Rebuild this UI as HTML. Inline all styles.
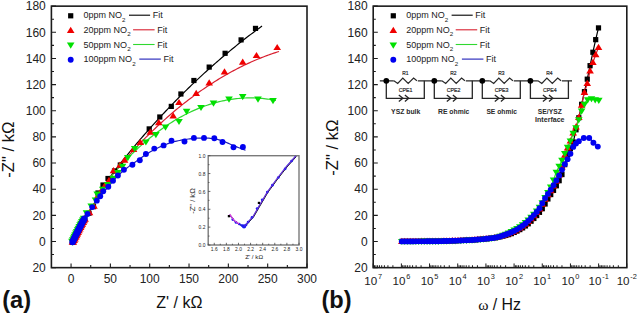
<!DOCTYPE html><html><head><meta charset="utf-8"><style>html,body{margin:0;padding:0;background:#fff;width:637px;height:313px;overflow:hidden}svg{display:block}</style></head><body>
<svg width="637" height="313" viewBox="0 0 637 313" style="font-family:'Liberation Sans',sans-serif;">
<rect width="637" height="313" fill="#fff"/>
<path d="M51.4 267.65h4.6 M51.4 254.57h2.6 M51.4 241.5h4.6 M51.4 228.43h2.6 M51.4 215.35h4.6 M51.4 202.28h2.6 M51.4 189.2h4.6 M51.4 176.12h2.6 M51.4 163.05h4.6 M51.4 149.97h2.6 M51.4 136.9h4.6 M51.4 123.82h2.6 M51.4 110.75h4.6 M51.4 97.67h2.6 M51.4 84.6h4.6 M51.4 71.52h2.6 M51.4 58.45h4.6 M51.4 45.37h2.6 M51.4 32.3h4.6 M51.4 19.22h2.6 M51.4 6.15h4.6" stroke="#1c1c1c" stroke-width="1.1" fill="none"/>
<text x="45.8" y="271.85" font-size="12" text-anchor="end" fill="#222">20</text>
<text x="45.8" y="245.7" font-size="12" text-anchor="end" fill="#222">0</text>
<text x="45.8" y="219.55" font-size="12" text-anchor="end" fill="#222">20</text>
<text x="45.8" y="193.4" font-size="12" text-anchor="end" fill="#222">40</text>
<text x="45.8" y="167.25" font-size="12" text-anchor="end" fill="#222">60</text>
<text x="45.8" y="141.1" font-size="12" text-anchor="end" fill="#222">80</text>
<text x="45.8" y="114.95" font-size="12" text-anchor="end" fill="#222">100</text>
<text x="45.8" y="88.8" font-size="12" text-anchor="end" fill="#222">120</text>
<text x="45.8" y="62.65" font-size="12" text-anchor="end" fill="#222">140</text>
<text x="45.8" y="36.5" font-size="12" text-anchor="end" fill="#222">160</text>
<text x="45.8" y="10.35" font-size="12" text-anchor="end" fill="#222">180</text>
<path d="M373.2 267.65h4.6 M373.2 254.57h2.6 M373.2 241.5h4.6 M373.2 228.43h2.6 M373.2 215.35h4.6 M373.2 202.28h2.6 M373.2 189.2h4.6 M373.2 176.12h2.6 M373.2 163.05h4.6 M373.2 149.97h2.6 M373.2 136.9h4.6 M373.2 123.82h2.6 M373.2 110.75h4.6 M373.2 97.67h2.6 M373.2 84.6h4.6 M373.2 71.52h2.6 M373.2 58.45h4.6 M373.2 45.37h2.6 M373.2 32.3h4.6 M373.2 19.22h2.6 M373.2 6.15h4.6" stroke="#1c1c1c" stroke-width="1.1" fill="none"/>
<text x="367.6" y="271.85" font-size="12" text-anchor="end" fill="#222">20</text>
<text x="367.6" y="245.7" font-size="12" text-anchor="end" fill="#222">0</text>
<text x="367.6" y="219.55" font-size="12" text-anchor="end" fill="#222">20</text>
<text x="367.6" y="193.4" font-size="12" text-anchor="end" fill="#222">40</text>
<text x="367.6" y="167.25" font-size="12" text-anchor="end" fill="#222">60</text>
<text x="367.6" y="141.1" font-size="12" text-anchor="end" fill="#222">80</text>
<text x="367.6" y="114.95" font-size="12" text-anchor="end" fill="#222">100</text>
<text x="367.6" y="88.8" font-size="12" text-anchor="end" fill="#222">120</text>
<text x="367.6" y="62.65" font-size="12" text-anchor="end" fill="#222">140</text>
<text x="367.6" y="36.5" font-size="12" text-anchor="end" fill="#222">160</text>
<text x="367.6" y="10.35" font-size="12" text-anchor="end" fill="#222">180</text>
<path d="M71.06 267.65v-4.2 M90.72 267.65v-2.6 M110.38 267.65v-4.2 M130.05 267.65v-2.6 M149.71 267.65v-4.2 M169.37 267.65v-2.6 M189.03 267.65v-4.2 M208.69 267.65v-2.6 M228.35 267.65v-4.2 M248.02 267.65v-2.6 M267.68 267.65v-4.2 M287.34 267.65v-2.6 M307 267.65v-4.2" stroke="#1c1c1c" stroke-width="1.1" fill="none"/>
<text x="71.06" y="283.2" font-size="12" text-anchor="middle" fill="#222">0</text>
<text x="110.38" y="283.2" font-size="12" text-anchor="middle" fill="#222">50</text>
<text x="149.71" y="283.2" font-size="12" text-anchor="middle" fill="#222">100</text>
<text x="189.03" y="283.2" font-size="12" text-anchor="middle" fill="#222">150</text>
<text x="228.35" y="283.2" font-size="12" text-anchor="middle" fill="#222">200</text>
<text x="267.68" y="283.2" font-size="12" text-anchor="middle" fill="#222">250</text>
<text x="307" y="283.2" font-size="12" text-anchor="middle" fill="#222">300</text>
<path d="M373.2 267.65v-4.2 M392.9 267.65v-2.4 M387.93 267.65v-2.4 M384.41 267.65v-2.4 M381.68 267.65v-2.4 M379.45 267.65v-2.4 M377.56 267.65v-2.4 M375.93 267.65v-2.4 M374.49 267.65v-2.4 M401.38 267.65v-4.2 M421.07 267.65v-2.4 M416.11 267.65v-2.4 M412.59 267.65v-2.4 M409.86 267.65v-2.4 M407.63 267.65v-2.4 M405.74 267.65v-2.4 M404.11 267.65v-2.4 M402.67 267.65v-2.4 M429.56 267.65v-4.2 M449.25 267.65v-2.4 M444.29 267.65v-2.4 M440.77 267.65v-2.4 M438.04 267.65v-2.4 M435.81 267.65v-2.4 M433.92 267.65v-2.4 M432.29 267.65v-2.4 M430.84 267.65v-2.4 M457.73 267.65v-4.2 M477.43 267.65v-2.4 M472.47 267.65v-2.4 M468.95 267.65v-2.4 M466.22 267.65v-2.4 M463.98 267.65v-2.4 M462.1 267.65v-2.4 M460.46 267.65v-2.4 M459.02 267.65v-2.4 M485.91 267.65v-4.2 M505.61 267.65v-2.4 M500.64 267.65v-2.4 M497.12 267.65v-2.4 M494.39 267.65v-2.4 M492.16 267.65v-2.4 M490.28 267.65v-2.4 M488.64 267.65v-2.4 M487.2 267.65v-2.4 M514.09 267.65v-4.2 M533.78 267.65v-2.4 M528.82 267.65v-2.4 M525.3 267.65v-2.4 M522.57 267.65v-2.4 M520.34 267.65v-2.4 M518.45 267.65v-2.4 M516.82 267.65v-2.4 M515.38 267.65v-2.4 M542.27 267.65v-4.2 M561.96 267.65v-2.4 M557 267.65v-2.4 M553.48 267.65v-2.4 M550.75 267.65v-2.4 M548.52 267.65v-2.4 M546.63 267.65v-2.4 M545 267.65v-2.4 M543.56 267.65v-2.4 M570.44 267.65v-4.2 M590.14 267.65v-2.4 M585.18 267.65v-2.4 M581.66 267.65v-2.4 M578.93 267.65v-2.4 M576.7 267.65v-2.4 M574.81 267.65v-2.4 M573.18 267.65v-2.4 M571.73 267.65v-2.4 M598.62 267.65v-4.2 M618.32 267.65v-2.4 M613.36 267.65v-2.4 M609.84 267.65v-2.4 M607.1 267.65v-2.4 M604.87 267.65v-2.4 M602.99 267.65v-2.4 M601.35 267.65v-2.4 M599.91 267.65v-2.4 M626.8 267.65v-4.2" stroke="#1c1c1c" stroke-width="1" fill="none"/>
<text x="364.29" y="284.9" font-size="11.6" fill="#222">10</text>
<text x="377.99" y="279.4" font-size="7.4" fill="#222">7</text>
<text x="392.47" y="284.9" font-size="11.6" fill="#222">10</text>
<text x="406.17" y="279.4" font-size="7.4" fill="#222">6</text>
<text x="420.65" y="284.9" font-size="11.6" fill="#222">10</text>
<text x="434.35" y="279.4" font-size="7.4" fill="#222">5</text>
<text x="448.83" y="284.9" font-size="11.6" fill="#222">10</text>
<text x="462.53" y="279.4" font-size="7.4" fill="#222">4</text>
<text x="477" y="284.9" font-size="11.6" fill="#222">10</text>
<text x="490.7" y="279.4" font-size="7.4" fill="#222">3</text>
<text x="505.18" y="284.9" font-size="11.6" fill="#222">10</text>
<text x="518.88" y="279.4" font-size="7.4" fill="#222">2</text>
<text x="533.36" y="284.9" font-size="11.6" fill="#222">10</text>
<text x="547.06" y="279.4" font-size="7.4" fill="#222">1</text>
<text x="561.54" y="284.9" font-size="11.6" fill="#222">10</text>
<text x="575.24" y="279.4" font-size="7.4" fill="#222">0</text>
<text x="588.48" y="284.9" font-size="11.6" fill="#222">10</text>
<text x="602.18" y="279.4" font-size="7.4" fill="#222">-1</text>
<text x="616.66" y="284.9" font-size="11.6" fill="#222">10</text>
<text x="630.36" y="279.4" font-size="7.4" fill="#222">-2</text>
<rect x="51.4" y="6.15" width="255.6" height="261.5" fill="none" stroke="#1c1c1c" stroke-width="1.6"/>
<rect x="373.2" y="6.15" width="253.6" height="261.5" fill="none" stroke="#1c1c1c" stroke-width="1.6"/>
<text x="156.3" y="307.8" font-size="16" fill="#111">Z' / kΩ</text>
<text transform="translate(14.2 149.7) rotate(-90)" font-size="16.6" text-anchor="middle" fill="#111">-Z" / kΩ</text>
<text transform="translate(337.6 147.7) rotate(-90)" font-size="16.6" text-anchor="middle" fill="#111">-Z" / kΩ</text>
<text x="478.3" y="309.6" font-size="15.6" fill="#111" style="font-family:'Liberation Serif',serif">ω</text>
<text x="492.7" y="309.6" font-size="15.9" fill="#111">/ Hz</text>
<text x="2.2" y="308.4" font-size="23.6" font-weight="bold" fill="#111">(a)</text>
<text x="321.4" y="308.4" font-size="23.6" font-weight="bold" fill="#111">(b)</text>
<rect x="68.1" y="13.2" width="5.2" height="5.2" fill="#000"/>
<text x="83.6" y="18.4" font-size="9" fill="#222">0ppm NO<tspan font-size="6.2" dy="3.4">2</tspan></text>
<path d="M129 15.2H150.1" stroke="#000" stroke-width="1.1"/>
<text x="152.7" y="18.4" font-size="9" fill="#222">Fit</text>
<path d="M70.7 26.68L74.5 32.88L66.9 32.88Z" fill="#f00000"/>
<text x="83.6" y="33" font-size="9" fill="#222">20ppm NO<tspan font-size="6.2" dy="3.4">2</tspan></text>
<path d="M133.1 29.8H154.6" stroke="#d82030" stroke-width="1.1"/>
<text x="157.2" y="33" font-size="9" fill="#222">Fit</text>
<path d="M70.7 48.82L74.5 42.62L66.9 42.62Z" fill="#00e000"/>
<text x="83.6" y="47.7" font-size="9" fill="#222">50ppm NO<tspan font-size="6.2" dy="3.4">2</tspan></text>
<path d="M133.1 44.5H154.6" stroke="#30d830" stroke-width="1.1"/>
<text x="157.2" y="47.7" font-size="9" fill="#222">Fit</text>
<circle cx="70.7" cy="59.7" r="2.95" fill="#0000f0"/>
<text x="83.6" y="62.3" font-size="9" fill="#222">100ppm NO<tspan font-size="6.2" dy="3.4">2</tspan></text>
<path d="M139.3 59.1H160.8" stroke="#1e1eb8" stroke-width="1.1"/>
<text x="163.4" y="62.3" font-size="9" fill="#222">Fit</text>
<rect x="390.7" y="13.2" width="5.2" height="5.2" fill="#000"/>
<text x="406.2" y="18.4" font-size="9" fill="#222">0ppm NO<tspan font-size="6.2" dy="3.4">2</tspan></text>
<path d="M451.6 15.2H472.7" stroke="#000" stroke-width="1.1"/>
<text x="475.3" y="18.4" font-size="9" fill="#222">Fit</text>
<path d="M393.3 26.68L397.1 32.88L389.5 32.88Z" fill="#f00000"/>
<text x="406.2" y="33" font-size="9" fill="#222">20ppm NO<tspan font-size="6.2" dy="3.4">2</tspan></text>
<path d="M455.7 29.8H477.2" stroke="#d82030" stroke-width="1.1"/>
<text x="479.8" y="33" font-size="9" fill="#222">Fit</text>
<path d="M393.3 48.82L397.1 42.62L389.5 42.62Z" fill="#00e000"/>
<text x="406.2" y="47.7" font-size="9" fill="#222">50ppm NO<tspan font-size="6.2" dy="3.4">2</tspan></text>
<path d="M455.7 44.5H477.2" stroke="#30d830" stroke-width="1.1"/>
<text x="479.8" y="47.7" font-size="9" fill="#222">Fit</text>
<circle cx="393.3" cy="59.7" r="2.95" fill="#0000f0"/>
<text x="406.2" y="62.3" font-size="9" fill="#222">100ppm NO<tspan font-size="6.2" dy="3.4">2</tspan></text>
<path d="M461.9 59.1H483.4" stroke="#1e1eb8" stroke-width="1.1"/>
<text x="486" y="62.3" font-size="9" fill="#222">Fit</text>
<polyline points="71.3,242.3 72.9,241.26 74.51,237.94 76.11,234.65 77.71,231.37 79.31,228.2 80.92,225.1 82.52,222.08 84.12,219.24 85.72,216.63 87.33,214.2 88.93,211.86 90.53,209.53 92.13,207.2 93.74,204.91 95.34,202.25 96.94,199.56 98.54,196.9 100.15,194.28 101.75,191.66 103.35,189.01 104.95,186.35 106.56,183.66 108.16,180.93 109.76,178.16 111.36,175.37 112.97,173 114.57,170.91 116.17,168.84 117.77,166.79 119.38,164.75 120.98,162.73 122.58,160.72 124.18,158.72 125.79,156.74 127.39,154.77 128.99,152.81 130.59,150.87 132.2,148.94 133.8,147.02 135.4,145.11 137,143.22 138.61,141.33 140.21,139.46 141.81,137.6 143.41,135.75 145.02,133.92 146.62,132.09 148.22,130.28 149.82,128.48 151.43,126.68 153.03,124.9 154.63,123.13 156.23,121.37 157.84,119.62 159.44,117.88 161.04,116.15 162.64,114.43 164.25,112.72 165.85,111.02 167.45,109.34 169.05,107.66 170.66,105.99 172.26,104.33 173.86,102.68 175.46,101.04 177.07,99.41 178.67,97.79 180.27,96.18 181.87,94.58 183.48,92.99 185.08,91.41 186.68,89.84 188.28,88.27 189.89,86.72 191.49,85.18 193.09,83.64 194.69,82.12 196.3,80.6 197.9,79.09 199.5,77.6 201.1,76.11 202.71,74.63 204.31,73.16 205.91,71.7 207.51,70.24 209.12,68.8 210.72,67.37 212.32,65.94 213.92,64.53 215.53,63.12 217.13,61.72 218.73,60.33 220.33,58.95 221.94,57.58 223.54,56.21 225.14,54.86 226.74,53.51 228.35,52.18 229.95,50.85 231.55,49.53 233.15,48.22 234.76,46.91 236.36,45.62 237.96,44.34 239.56,43.06 241.17,41.79 242.77,40.53 244.37,39.28 245.97,38.04 247.58,36.81 249.18,35.58 250.78,34.37 252.38,33.16 253.99,31.96 255.59,30.77 257.19,29.59 258.79,28.41 260.4,27.25 262,26.09" fill="none" stroke="#000" stroke-width="1.2"/>
<polyline points="71.3,242.3 73.05,240.96 74.79,237.36 76.54,233.77 78.28,230.22 80.03,226.81 81.77,223.47 83.52,220.28 85.26,217.36 87.01,214.67 88.75,212.11 90.5,209.57 92.24,207.04 93.99,204.55 95.74,201.57 97.48,198.65 99.23,195.8 100.97,192.98 102.72,190.17 104.46,187.37 106.21,184.56 107.95,181.73 109.7,178.88 111.44,176.03 113.19,173.66 114.93,171.54 116.68,169.43 118.43,167.35 120.17,165.3 121.92,163.26 123.66,161.25 125.41,159.26 127.15,157.29 128.9,155.34 130.64,153.42 132.39,151.51 134.13,149.62 135.88,147.75 137.62,145.9 139.37,144.07 141.12,142.26 142.86,140.47 144.61,138.7 146.35,136.95 148.1,135.21 149.84,133.49 151.59,131.79 153.33,130.11 155.08,128.45 156.82,126.8 158.57,125.17 160.31,123.56 162.06,121.96 163.81,120.39 165.55,118.83 167.3,117.28 169.04,115.76 170.79,114.25 172.53,112.76 174.28,111.28 176.02,109.82 177.77,108.38 179.51,106.95 181.26,105.54 183,104.15 184.75,102.77 186.49,101.41 188.24,100.06 189.99,98.73 191.73,97.42 193.48,96.12 195.22,94.84 196.97,93.58 198.71,92.33 200.46,91.1 202.2,89.88 203.95,88.68 205.69,87.49 207.44,86.32 209.18,85.16 210.93,84.03 212.68,82.9 214.42,81.79 216.17,80.7 217.91,79.62 219.66,78.56 221.4,77.52 223.15,76.48 224.89,75.47 226.64,74.47 228.38,73.48 230.13,72.51 231.87,71.56 233.62,70.62 235.37,69.7 237.11,68.79 238.86,67.89 240.6,67.01 242.35,66.15 244.09,65.3 245.84,64.47 247.58,63.65 249.33,62.85 251.07,62.06 252.82,61.28 254.56,60.53 256.31,59.78 258.06,59.05 259.8,58.34 261.55,57.64 263.29,56.96 265.04,56.29 266.78,55.64 268.53,55 270.27,54.37 272.02,53.76 273.76,53.17 275.51,52.59 277.25,52.02 279,51.47" fill="none" stroke="#d82030" stroke-width="1.2"/>
<polyline points="71.3,242.3 73.02,241.01 74.74,237.46 76.46,233.93 78.18,230.42 79.9,227.06 81.62,223.75 83.34,220.6 85.06,217.68 86.78,215.01 88.5,212.48 90.22,209.98 91.94,207.48 93.66,205.01 95.38,202.14 97.1,199.22 98.82,196.37 100.54,193.58 102.26,190.82 103.98,188.07 105.7,185.33 107.42,182.6 109.14,179.87 110.86,177.16 112.58,174.71 114.3,172.71 116.02,170.75 117.74,168.82 119.46,166.92 121.18,165.05 122.91,163.21 124.63,161.39 126.35,159.61 128.07,157.86 129.79,156.13 131.51,154.44 133.23,152.77 134.95,151.12 136.67,149.51 138.39,147.92 140.11,146.36 141.83,144.83 143.55,143.32 145.27,141.84 146.99,140.39 148.71,138.96 150.43,137.56 152.15,136.18 153.87,134.83 155.59,133.5 157.31,132.2 159.03,130.93 160.75,129.68 162.47,128.45 164.19,127.25 165.91,126.08 167.63,124.93 169.35,123.81 171.07,122.71 172.79,121.63 174.51,120.58 176.23,119.55 177.95,118.55 179.67,117.57 181.39,116.62 183.11,115.69 184.83,114.79 186.55,113.91 188.27,113.05 189.99,112.22 191.71,111.41 193.43,110.62 195.15,109.86 196.87,109.12 198.59,108.41 200.31,107.72 202.03,107.06 203.75,106.41 205.47,105.79 207.19,105.2 208.91,104.63 210.63,104.08 212.35,103.56 214.07,103.06 215.79,102.58 217.51,102.12 219.23,101.69 220.95,101.29 222.67,100.9 224.39,100.54 226.12,100.2 227.84,99.89 229.56,99.6 231.28,99.33 233,99.09 234.72,98.87 236.44,98.67 238.16,98.49 239.88,98.34 241.6,98.21 243.32,98.11 245.04,98.02 246.76,97.96 248.48,97.93 250.2,97.91 251.92,97.92 253.64,97.95 255.36,98.01 257.08,98.09 258.8,98.19 260.52,98.31 262.24,98.46 263.96,98.63 265.68,98.82 267.4,99.04 269.12,99.27 270.84,99.54 272.56,99.82 274.28,100.13 276,100.45" fill="none" stroke="#30d830" stroke-width="1.2"/>
<polyline points="71.3,242.3 72.76,241.54 74.23,238.51 75.69,235.51 77.16,232.5 78.62,229.56 80.08,226.7 81.55,223.89 83.01,221.19 84.47,218.64 85.94,216.29 87.4,214.08 88.87,211.95 90.33,209.82 91.79,207.69 93.26,205.59 94.72,203.52 96.19,201.5 97.65,199.53 99.11,197.64 100.58,195.8 102.04,194.01 103.51,192.23 104.97,190.5 106.43,188.79 107.9,187.08 109.36,185.33 110.82,183.56 112.29,181.82 113.75,180.15 115.22,178.52 116.68,176.94 118.14,175.46 119.61,174.05 121.07,172.71 122.54,171.42 124,170.2 125.46,169.04 126.93,167.93 128.39,166.86 129.85,165.81 131.32,164.77 132.78,163.73 134.25,162.68 135.71,161.65 137.17,160.63 138.64,159.61 140.1,158.59 141.57,157.56 143.03,156.53 144.49,155.53 145.96,154.56 147.42,153.63 148.88,152.71 150.35,151.82 151.81,150.96 153.28,150.14 154.74,149.38 156.2,148.65 157.67,147.96 159.13,147.3 160.6,146.66 162.06,146.04 163.52,145.43 164.99,144.82 166.45,144.22 167.92,143.63 169.38,143.08 170.84,142.59 172.31,142.18 173.77,141.79 175.23,141.43 176.7,141.09 178.16,140.77 179.63,140.47 181.09,140.18 182.55,139.92 184.02,139.68 185.48,139.44 186.95,139.22 188.41,139 189.87,138.8 191.34,138.62 192.8,138.48 194.26,138.38 195.73,138.29 197.19,138.21 198.66,138.14 200.12,138.08 201.58,138.03 203.05,138.01 204.51,138 205.98,138.04 207.44,138.11 208.9,138.22 210.37,138.35 211.83,138.51 213.29,138.68 214.76,138.86 216.22,139.13 217.69,139.49 219.15,139.92 220.61,140.38 222.08,140.86 223.54,141.36 225.01,141.91 226.47,142.52 227.93,143.16 229.4,143.82 230.86,144.47 232.33,145.11 233.79,145.72 235.25,146.31 236.72,146.89 238.18,147.47 239.64,148.05 241.11,148.62 242.57,149.18 244.04,149.74 245.5,150.3" fill="none" stroke="#1e1eb8" stroke-width="1.2"/>
<rect x="69.79" y="239.07" width="5.82" height="5.82" fill="#000"/>
<rect x="70.59" y="237.41" width="5.82" height="5.82" fill="#000"/>
<rect x="71.39" y="235.76" width="5.82" height="5.82" fill="#000"/>
<rect x="72.19" y="234.11" width="5.82" height="5.82" fill="#000"/>
<rect x="72.99" y="232.47" width="5.82" height="5.82" fill="#000"/>
<rect x="73.79" y="230.83" width="5.82" height="5.82" fill="#000"/>
<rect x="74.59" y="229.19" width="5.82" height="5.82" fill="#000"/>
<rect x="75.39" y="227.57" width="5.82" height="5.82" fill="#000"/>
<rect x="76.24" y="225.9" width="5.82" height="5.82" fill="#000"/>
<rect x="77.09" y="224.25" width="5.82" height="5.82" fill="#000"/>
<rect x="77.94" y="222.6" width="5.82" height="5.82" fill="#000"/>
<rect x="78.79" y="220.98" width="5.82" height="5.82" fill="#000"/>
<rect x="79.69" y="219.3" width="5.82" height="5.82" fill="#000"/>
<rect x="80.59" y="217.68" width="5.82" height="5.82" fill="#000"/>
<rect x="81.54" y="216.04" width="5.82" height="5.82" fill="#000"/>
<rect x="86.4" y="210.61" width="5.2" height="5.2" fill="#000"/>
<rect x="90.9" y="204.07" width="5.2" height="5.2" fill="#000"/>
<rect x="95.4" y="190.4" width="5.2" height="5.2" fill="#000"/>
<rect x="100.4" y="182.4" width="5.2" height="5.2" fill="#000"/>
<rect x="105.4" y="175.9" width="5.2" height="5.2" fill="#000"/>
<rect x="117.7" y="162.4" width="5.2" height="5.2" fill="#000"/>
<rect x="111.9" y="168.4" width="5.2" height="5.2" fill="#000"/>
<rect x="146.6" y="126.3" width="5.2" height="5.2" fill="#000"/>
<rect x="157.2" y="114.4" width="5.2" height="5.2" fill="#000"/>
<rect x="168.7" y="103.8" width="5.2" height="5.2" fill="#000"/>
<rect x="178.3" y="91.4" width="5.2" height="5.2" fill="#000"/>
<rect x="191.3" y="77.9" width="5.2" height="5.2" fill="#000"/>
<rect x="206.6" y="64.5" width="5.2" height="5.2" fill="#000"/>
<rect x="222.5" y="50.7" width="5.2" height="5.2" fill="#000"/>
<rect x="238.5" y="37.3" width="5.2" height="5.2" fill="#000"/>
<rect x="252.9" y="25.8" width="5.2" height="5.2" fill="#000"/>
<path d="M72.9 237.82L77.16 244.76L68.64 244.76Z" fill="#f00000"/>
<path d="M73.7 236.16L77.96 243.1L69.44 243.1Z" fill="#f00000"/>
<path d="M74.5 234.5L78.76 241.45L70.24 241.45Z" fill="#f00000"/>
<path d="M75.3 232.86L79.56 239.8L71.04 239.8Z" fill="#f00000"/>
<path d="M76.1 231.22L80.36 238.16L71.84 238.16Z" fill="#f00000"/>
<path d="M76.9 229.57L81.16 236.52L72.64 236.52Z" fill="#f00000"/>
<path d="M77.7 227.93L81.96 234.88L73.44 234.88Z" fill="#f00000"/>
<path d="M78.5 226.32L82.76 233.26L74.24 233.26Z" fill="#f00000"/>
<path d="M79.35 224.65L83.61 231.59L75.09 231.59Z" fill="#f00000"/>
<path d="M80.2 222.99L84.46 229.94L75.94 229.94Z" fill="#f00000"/>
<path d="M81.05 221.35L85.31 228.29L76.79 228.29Z" fill="#f00000"/>
<path d="M81.9 219.73L86.16 226.67L77.64 226.67Z" fill="#f00000"/>
<path d="M82.8 218.05L87.06 224.99L78.54 224.99Z" fill="#f00000"/>
<path d="M83.7 216.42L87.96 223.37L79.44 223.37Z" fill="#f00000"/>
<path d="M84.65 214.78L88.91 221.73L80.39 221.73Z" fill="#f00000"/>
<path d="M89.5 209.06L93.3 215.26L85.7 215.26Z" fill="#f00000"/>
<path d="M94 202.54L97.8 208.74L90.2 208.74Z" fill="#f00000"/>
<path d="M97.5 192.78L101.3 198.98L93.7 198.98Z" fill="#f00000"/>
<path d="M101.5 186.78L105.3 192.98L97.7 192.98Z" fill="#f00000"/>
<path d="M105 181.78L108.8 187.98L101.2 187.98Z" fill="#f00000"/>
<path d="M109 176.68L112.8 182.88L105.2 182.88Z" fill="#f00000"/>
<path d="M113.5 167.08L117.3 173.28L109.7 173.28Z" fill="#f00000"/>
<path d="M120 161.48L123.8 167.68L116.2 167.68Z" fill="#f00000"/>
<path d="M124.6 156.58L128.4 162.78L120.8 162.78Z" fill="#f00000"/>
<path d="M133.5 145.78L137.3 151.98L129.7 151.98Z" fill="#f00000"/>
<path d="M140.3 138.68L144.1 144.88L136.5 144.88Z" fill="#f00000"/>
<path d="M150.3 128.58L154.1 134.78L146.5 134.78Z" fill="#f00000"/>
<path d="M158.8 118.98L162.6 125.18L155 125.18Z" fill="#f00000"/>
<path d="M173.2 112.28L177 118.48L169.4 118.48Z" fill="#f00000"/>
<path d="M179 98.88L182.8 105.08L175.2 105.08Z" fill="#f00000"/>
<path d="M196.2 89.68L200 95.88L192.4 95.88Z" fill="#f00000"/>
<path d="M209.2 79.28L213 85.48L205.4 85.48Z" fill="#f00000"/>
<path d="M224.5 68.18L228.3 74.38L220.7 74.38Z" fill="#f00000"/>
<path d="M242.7 58.58L246.5 64.78L238.9 64.78Z" fill="#f00000"/>
<path d="M256.5 51.88L260.3 58.08L252.7 58.08Z" fill="#f00000"/>
<path d="M277.2 43.88L281 50.08L273.4 50.08Z" fill="#f00000"/>
<path d="M72.4 245.75L76.66 238.81L68.14 238.81Z" fill="#00e000"/>
<path d="M73.2 244.09L77.46 237.15L68.94 237.15Z" fill="#00e000"/>
<path d="M74 242.44L78.26 235.49L69.74 235.49Z" fill="#00e000"/>
<path d="M74.8 240.79L79.06 233.85L70.54 233.85Z" fill="#00e000"/>
<path d="M75.6 239.15L79.86 232.21L71.34 232.21Z" fill="#00e000"/>
<path d="M76.4 237.5L80.66 230.56L72.14 230.56Z" fill="#00e000"/>
<path d="M77.2 235.87L81.46 228.92L72.94 228.92Z" fill="#00e000"/>
<path d="M78 234.25L82.26 227.31L73.74 227.31Z" fill="#00e000"/>
<path d="M78.85 232.58L83.11 225.64L74.59 225.64Z" fill="#00e000"/>
<path d="M79.7 230.93L83.96 223.98L75.44 223.98Z" fill="#00e000"/>
<path d="M80.55 229.28L84.81 222.34L76.29 222.34Z" fill="#00e000"/>
<path d="M81.4 227.66L85.66 220.72L77.14 220.72Z" fill="#00e000"/>
<path d="M82.3 225.98L86.56 219.04L78.04 219.04Z" fill="#00e000"/>
<path d="M83.2 224.36L87.46 217.41L78.94 217.41Z" fill="#00e000"/>
<path d="M84.15 222.72L88.41 215.77L79.89 215.77Z" fill="#00e000"/>
<path d="M86.5 216.43L90.3 210.23L82.7 210.23Z" fill="#00e000"/>
<path d="M91.2 209.61L95 203.41L87.4 203.41Z" fill="#00e000"/>
<path d="M95.5 203.62L99.3 197.42L91.7 197.42Z" fill="#00e000"/>
<path d="M97.2 197.82L101 191.62L93.4 191.62Z" fill="#00e000"/>
<path d="M102.8 193.02L106.6 186.82L99 186.82Z" fill="#00e000"/>
<path d="M107.6 188.22L111.4 182.02L103.8 182.02Z" fill="#00e000"/>
<path d="M113.2 181.92L117 175.72L109.4 175.72Z" fill="#00e000"/>
<path d="M117.9 176.32L121.7 170.12L114.1 170.12Z" fill="#00e000"/>
<path d="M122.5 169.92L126.3 163.72L118.7 163.72Z" fill="#00e000"/>
<path d="M127.8 161.32L131.6 155.12L124 155.12Z" fill="#00e000"/>
<path d="M134.7 152.32L138.5 146.12L130.9 146.12Z" fill="#00e000"/>
<path d="M145.9 145.62L149.7 139.42L142.1 139.42Z" fill="#00e000"/>
<path d="M155.9 138.22L159.7 132.02L152.1 132.02Z" fill="#00e000"/>
<path d="M165.5 130.82L169.3 124.62L161.7 124.62Z" fill="#00e000"/>
<path d="M179 125.12L182.8 118.92L175.2 118.92Z" fill="#00e000"/>
<path d="M186.6 114.92L190.4 108.72L182.8 108.72Z" fill="#00e000"/>
<path d="M201 111.12L204.8 104.92L197.2 104.92Z" fill="#00e000"/>
<path d="M213.5 106.72L217.3 100.52L209.7 100.52Z" fill="#00e000"/>
<path d="M229 102.72L232.8 96.52L225.2 96.52Z" fill="#00e000"/>
<path d="M242.7 100.22L246.5 94.02L238.9 94.02Z" fill="#00e000"/>
<path d="M258 102.72L261.8 96.52L254.2 96.52Z" fill="#00e000"/>
<path d="M273 104.32L276.8 98.12L269.2 98.12Z" fill="#00e000"/>
<circle cx="72.6" cy="241.88" r="3.3" fill="#0000f0"/>
<circle cx="73.4" cy="240.22" r="3.3" fill="#0000f0"/>
<circle cx="74.2" cy="238.57" r="3.3" fill="#0000f0"/>
<circle cx="75" cy="236.93" r="3.3" fill="#0000f0"/>
<circle cx="75.8" cy="235.28" r="3.3" fill="#0000f0"/>
<circle cx="76.6" cy="233.64" r="3.3" fill="#0000f0"/>
<circle cx="77.4" cy="232" r="3.3" fill="#0000f0"/>
<circle cx="78.2" cy="230.39" r="3.3" fill="#0000f0"/>
<circle cx="79.05" cy="228.72" r="3.3" fill="#0000f0"/>
<circle cx="79.9" cy="227.06" r="3.3" fill="#0000f0"/>
<circle cx="80.75" cy="225.41" r="3.3" fill="#0000f0"/>
<circle cx="81.6" cy="223.79" r="3.3" fill="#0000f0"/>
<circle cx="82.5" cy="222.12" r="3.3" fill="#0000f0"/>
<circle cx="83.4" cy="220.49" r="3.3" fill="#0000f0"/>
<circle cx="84.35" cy="218.85" r="3.3" fill="#0000f0"/>
<circle cx="87.5" cy="213.94" r="2.95" fill="#0000f0"/>
<circle cx="92.2" cy="207.11" r="2.95" fill="#0000f0"/>
<circle cx="96.8" cy="200.67" r="2.95" fill="#0000f0"/>
<circle cx="100.2" cy="196.27" r="2.95" fill="#0000f0"/>
<circle cx="103.2" cy="191.2" r="2.95" fill="#0000f0"/>
<circle cx="108.3" cy="186.8" r="2.95" fill="#0000f0"/>
<circle cx="113" cy="180.8" r="2.95" fill="#0000f0"/>
<circle cx="117.9" cy="175.5" r="2.95" fill="#0000f0"/>
<circle cx="123.9" cy="169.7" r="2.95" fill="#0000f0"/>
<circle cx="132.4" cy="164.7" r="2.95" fill="#0000f0"/>
<circle cx="139.8" cy="160.3" r="2.95" fill="#0000f0"/>
<circle cx="145.9" cy="154" r="2.95" fill="#0000f0"/>
<circle cx="154.3" cy="148.6" r="2.95" fill="#0000f0"/>
<circle cx="163.6" cy="145.4" r="2.95" fill="#0000f0"/>
<circle cx="171.5" cy="140.7" r="2.95" fill="#0000f0"/>
<circle cx="184.5" cy="141.5" r="2.95" fill="#0000f0"/>
<circle cx="193.9" cy="137.9" r="2.95" fill="#0000f0"/>
<circle cx="204" cy="137.9" r="2.95" fill="#0000f0"/>
<circle cx="214.3" cy="138.3" r="2.95" fill="#0000f0"/>
<circle cx="222.5" cy="142" r="2.95" fill="#0000f0"/>
<circle cx="233.5" cy="147.3" r="2.95" fill="#0000f0"/>
<circle cx="242.9" cy="147" r="2.95" fill="#0000f0"/>
<polyline points="400,241.4 401,241.4 401.99,241.4 402.99,241.4 403.99,241.4 404.98,241.39 405.98,241.39 406.98,241.39 407.98,241.39 408.97,241.39 409.97,241.38 410.97,241.38 411.96,241.38 412.96,241.38 413.96,241.37 414.95,241.37 415.95,241.37 416.95,241.36 417.95,241.36 418.94,241.35 419.94,241.35 420.94,241.35 421.93,241.34 422.93,241.34 423.93,241.33 424.92,241.33 425.92,241.32 426.92,241.32 427.92,241.31 428.91,241.31 429.91,241.3 430.91,241.29 431.9,241.29 432.9,241.28 433.9,241.27 434.89,241.25 435.89,241.24 436.89,241.22 437.89,241.2 438.88,241.19 439.88,241.16 440.88,241.14 441.87,241.12 442.87,241.1 443.87,241.07 444.86,241.04 445.86,241.01 446.86,240.99 447.86,240.96 448.85,240.92 449.85,240.89 450.85,240.86 451.84,240.82 452.84,240.79 453.84,240.75 454.83,240.72 455.83,240.68 456.83,240.64 457.83,240.6 458.82,240.56 459.82,240.52 460.82,240.48 461.81,240.44 462.81,240.39 463.81,240.35 464.8,240.31 465.8,240.26 466.8,240.22 467.79,240.17 468.79,240.12 469.79,240.06 470.79,240 471.78,239.94 472.78,239.88 473.78,239.81 474.77,239.74 475.77,239.67 476.77,239.6 477.76,239.52 478.76,239.44 479.76,239.35 480.76,239.27 481.75,239.18 482.75,239.09 483.75,238.99 484.74,238.89 485.74,238.79 486.74,238.69 487.73,238.58 488.73,238.47 489.73,238.35 490.73,238.24 491.72,238.12 492.72,237.99 493.72,237.87 494.71,237.74 495.71,237.6 496.71,237.45 497.7,237.28 498.7,237.1 499.7,236.9 500.7,236.69 501.69,236.47 502.69,236.23 503.69,235.99 504.68,235.73 505.68,235.46 506.68,235.18 507.67,234.9 508.67,234.59 509.67,234.26 510.67,233.9 511.66,233.52 512.66,233.11 513.66,232.68 514.65,232.22 515.65,231.76 516.65,231.27 517.64,230.78 518.64,230.26 519.64,229.71 520.64,229.13 521.63,228.52 522.63,227.89 523.63,227.23 524.62,226.54 525.62,225.83 526.62,225.08 527.61,224.3 528.61,223.46 529.61,222.58 530.61,221.66 531.6,220.71 532.6,219.73 533.6,218.73 534.59,217.72 535.59,216.68 536.59,215.63 537.58,214.56 538.58,213.44 539.58,212.27 540.57,211.03 541.57,209.73 542.57,208.32 543.57,206.73 544.56,204.99 545.56,203.18 546.56,201.36 547.55,199.59 548.55,197.93 549.55,196.36 550.54,194.84 551.54,193.36 552.54,191.87 553.54,190.36 554.53,188.81 555.53,187.18 556.53,185.46 557.52,183.71 558.52,181.9 559.52,179.99 560.51,177.93 561.51,175.67 562.51,173.17 563.51,170.22 564.5,166.19 565.5,160.63 566.5,157.03 567.49,154.65 568.49,152.67 569.49,150.61 570.48,148.58 571.48,146.57 572.48,144.21 573.48,140.99 574.47,136.8 575.47,132.23 576.47,127.88 577.46,123.68 578.46,119.41 579.46,114.88 580.45,110.03 581.45,105.2 582.45,100.61 583.45,96.14 584.44,91.69 585.44,87.31 586.44,82.91 587.43,78.36 588.43,73.6 589.43,68.78 590.42,63.98 591.42,59.16 592.42,54.41 593.42,49.79 594.41,45.28 595.41,40.87 596.41,36.58 597.4,32.39 598.4,28.3" fill="none" stroke="#000" stroke-width="1.2"/>
<polyline points="400,241.4 401,241.4 401.99,241.4 402.99,241.4 403.99,241.4 404.98,241.39 405.98,241.39 406.98,241.39 407.98,241.39 408.97,241.39 409.97,241.38 410.97,241.38 411.96,241.38 412.96,241.38 413.96,241.37 414.95,241.37 415.95,241.37 416.95,241.36 417.95,241.36 418.94,241.35 419.94,241.35 420.94,241.35 421.93,241.34 422.93,241.34 423.93,241.33 424.92,241.33 425.92,241.32 426.92,241.32 427.92,241.31 428.91,241.31 429.91,241.3 430.91,241.29 431.9,241.29 432.9,241.28 433.9,241.27 434.89,241.25 435.89,241.24 436.89,241.22 437.89,241.2 438.88,241.19 439.88,241.16 440.88,241.14 441.87,241.12 442.87,241.1 443.87,241.07 444.86,241.04 445.86,241.01 446.86,240.99 447.86,240.96 448.85,240.92 449.85,240.89 450.85,240.86 451.84,240.82 452.84,240.79 453.84,240.75 454.83,240.72 455.83,240.68 456.83,240.64 457.83,240.6 458.82,240.56 459.82,240.52 460.82,240.48 461.81,240.44 462.81,240.39 463.81,240.35 464.8,240.31 465.8,240.26 466.8,240.22 467.79,240.17 468.79,240.12 469.79,240.07 470.79,240.01 471.78,239.95 472.78,239.89 473.78,239.83 474.77,239.77 475.77,239.7 476.77,239.63 477.76,239.55 478.76,239.48 479.76,239.39 480.76,239.31 481.75,239.22 482.75,239.13 483.75,239.04 484.74,238.94 485.74,238.84 486.74,238.73 487.73,238.62 488.73,238.51 489.73,238.39 490.73,238.27 491.72,238.15 492.72,238.02 493.72,237.88 494.71,237.74 495.71,237.59 496.71,237.4 497.7,237.19 498.7,236.94 499.7,236.67 500.7,236.39 501.69,236.08 502.69,235.76 503.69,235.44 504.68,235.11 505.68,234.77 506.68,234.43 507.67,234.06 508.67,233.68 509.67,233.27 510.67,232.85 511.66,232.41 512.66,231.95 513.66,231.47 514.65,230.97 515.65,230.46 516.65,229.92 517.64,229.35 518.64,228.76 519.64,228.14 520.64,227.49 521.63,226.81 522.63,226.11 523.63,225.38 524.62,224.61 525.62,223.79 526.62,222.93 527.61,222.03 528.61,221.09 529.61,220.12 530.61,219.13 531.6,218.12 532.6,217.09 533.6,216.05 534.59,214.98 535.59,213.88 536.59,212.73 537.58,211.52 538.58,210.25 539.58,208.89 540.57,207.37 541.57,205.69 542.57,203.9 543.57,202.07 544.56,200.27 545.56,198.57 546.56,196.97 547.55,195.44 548.55,193.94 549.55,192.46 550.54,190.97 551.54,189.43 552.54,187.83 553.54,186.14 554.53,184.38 555.53,182.59 556.53,180.71 557.52,178.71 558.52,176.57 559.52,174.23 560.51,171.65 561.51,168.66 562.51,164.89 563.51,159.94 564.5,156.01 565.5,153.18 566.5,150.72 567.49,148.26 568.49,145.79 569.49,143.36 570.48,140.81 571.48,137.92 572.48,134.91 573.48,132.38 574.47,130.35 575.47,128.31 576.47,125.7 577.46,122.13 578.46,118.78 579.46,115.32 580.45,111.16 581.45,106.33 582.45,101.5 583.45,96.68 584.44,92.49 585.44,89.25 586.44,86.27 587.43,82.87 588.43,78.37 589.43,73.56 590.42,69.72 591.42,66.64 592.42,63.84 593.42,61.02 594.41,58.25 595.41,55.54 596.41,52.89 597.4,50.29 598.4,47.75" fill="none" stroke="#d82030" stroke-width="1.2"/>
<polyline points="400,241.4 401,241.4 401.99,241.4 402.99,241.4 403.99,241.4 404.98,241.39 405.98,241.39 406.98,241.39 407.98,241.39 408.97,241.39 409.97,241.38 410.97,241.38 411.96,241.38 412.96,241.38 413.96,241.37 414.95,241.37 415.95,241.37 416.95,241.36 417.95,241.36 418.94,241.35 419.94,241.35 420.94,241.35 421.93,241.34 422.93,241.34 423.93,241.33 424.92,241.33 425.92,241.32 426.92,241.32 427.92,241.31 428.91,241.31 429.91,241.3 430.91,241.29 431.9,241.29 432.9,241.28 433.9,241.27 434.89,241.25 435.89,241.24 436.89,241.22 437.89,241.2 438.88,241.19 439.88,241.16 440.88,241.14 441.87,241.12 442.87,241.1 443.87,241.07 444.86,241.04 445.86,241.01 446.86,240.99 447.86,240.96 448.85,240.92 449.85,240.89 450.85,240.86 451.84,240.82 452.84,240.79 453.84,240.75 454.83,240.72 455.83,240.68 456.83,240.64 457.83,240.6 458.82,240.56 459.82,240.52 460.82,240.48 461.81,240.44 462.81,240.39 463.81,240.35 464.8,240.31 465.8,240.26 466.8,240.22 467.79,240.17 468.79,240.12 469.79,240.07 470.79,240.02 471.78,239.96 472.78,239.91 473.78,239.85 474.77,239.78 475.77,239.72 476.77,239.65 477.76,239.58 478.76,239.5 479.76,239.42 480.76,239.34 481.75,239.25 482.75,239.16 483.75,239.07 484.74,238.97 485.74,238.87 486.74,238.77 487.73,238.65 488.73,238.54 489.73,238.42 490.73,238.29 491.72,238.16 492.72,238.03 493.72,237.89 494.71,237.74 495.71,237.58 496.71,237.37 497.7,237.11 498.7,236.82 499.7,236.5 500.7,236.15 501.69,235.78 502.69,235.4 503.69,235.01 504.68,234.62 505.68,234.23 506.68,233.82 507.67,233.38 508.67,232.93 509.67,232.45 510.67,231.95 511.66,231.44 512.66,230.92 513.66,230.39 514.65,229.84 515.65,229.28 516.65,228.7 517.64,228.11 518.64,227.49 519.64,226.85 520.64,226.19 521.63,225.5 522.63,224.78 523.63,224.02 524.62,223.22 525.62,222.37 526.62,221.48 527.61,220.55 528.61,219.6 529.61,218.62 530.61,217.62 531.6,216.6 532.6,215.57 533.6,214.53 534.59,213.46 535.59,212.34 536.59,211.18 537.58,209.94 538.58,208.64 539.58,207.22 540.57,205.66 541.57,203.97 542.57,202.21 543.57,200.4 544.56,198.59 545.56,196.8 546.56,195.04 547.55,193.27 548.55,191.44 549.55,189.53 550.54,187.48 551.54,185.25 552.54,182.7 553.54,179.94 554.53,177.1 555.53,174.32 556.53,171.73 557.52,169.44 558.52,167.39 559.52,165.44 560.51,163.44 561.51,161.25 562.51,158.92 563.51,156.53 564.5,154.2 565.5,151.92 566.5,149.65 567.49,147.39 568.49,145.2 569.49,143.01 570.48,140.69 571.48,137.99 572.48,135.14 573.48,132.73 574.47,130.76 575.47,128.82 576.47,126.53 577.46,123.7 578.46,120.72 579.46,117.67 580.45,114.52 581.45,111.51 582.45,108.88 583.45,106.5 584.44,104.25 585.44,102.34 586.44,100.96 587.43,99.97 588.43,99.24 589.43,98.88 590.42,98.66 591.42,98.61 592.42,98.84 593.42,99.22 594.41,99.53 595.41,99.75 596.41,99.95 597.4,100.13 598.4,100.29" fill="none" stroke="#30d830" stroke-width="1.2"/>
<polyline points="400,241.4 401,241.4 401.99,241.4 402.99,241.4 403.99,241.4 404.98,241.39 405.98,241.39 406.98,241.39 407.98,241.39 408.97,241.39 409.97,241.38 410.97,241.38 411.96,241.38 412.96,241.38 413.96,241.37 414.95,241.37 415.95,241.37 416.95,241.36 417.95,241.36 418.94,241.35 419.94,241.35 420.94,241.35 421.93,241.34 422.93,241.34 423.93,241.33 424.92,241.33 425.92,241.32 426.92,241.32 427.92,241.31 428.91,241.31 429.91,241.3 430.91,241.29 431.9,241.29 432.9,241.28 433.9,241.27 434.89,241.25 435.89,241.24 436.89,241.22 437.89,241.2 438.88,241.19 439.88,241.16 440.88,241.14 441.87,241.12 442.87,241.1 443.87,241.07 444.86,241.04 445.86,241.01 446.86,240.99 447.86,240.96 448.85,240.92 449.85,240.89 450.85,240.86 451.84,240.82 452.84,240.79 453.84,240.75 454.83,240.72 455.83,240.68 456.83,240.64 457.83,240.6 458.82,240.56 459.82,240.52 460.82,240.48 461.81,240.44 462.81,240.39 463.81,240.35 464.8,240.31 465.8,240.26 466.8,240.22 467.79,240.17 468.79,240.12 469.79,240.07 470.79,240.02 471.78,239.96 472.78,239.9 473.78,239.84 474.77,239.77 475.77,239.71 476.77,239.64 477.76,239.56 478.76,239.49 479.76,239.41 480.76,239.32 481.75,239.24 482.75,239.15 483.75,239.05 484.74,238.95 485.74,238.85 486.74,238.75 487.73,238.64 488.73,238.52 489.73,238.4 490.73,238.28 491.72,238.15 492.72,238.02 493.72,237.88 494.71,237.74 495.71,237.58 496.71,237.39 497.7,237.15 498.7,236.88 499.7,236.59 500.7,236.28 501.69,235.95 502.69,235.6 503.69,235.26 504.68,234.91 505.68,234.56 506.68,234.2 507.67,233.82 508.67,233.42 509.67,233.01 510.67,232.57 511.66,232.12 512.66,231.66 513.66,231.17 514.65,230.67 515.65,230.14 516.65,229.58 517.64,229 518.64,228.39 519.64,227.75 520.64,227.08 521.63,226.39 522.63,225.67 523.63,224.92 524.62,224.12 525.62,223.28 526.62,222.39 527.61,221.46 528.61,220.51 529.61,219.53 530.61,218.52 531.6,217.5 532.6,216.47 533.6,215.41 534.59,214.32 535.59,213.2 536.59,212.01 537.58,210.77 538.58,209.44 539.58,208 540.57,206.37 541.57,204.62 542.57,202.8 543.57,200.98 544.56,199.23 545.56,197.59 546.56,196.01 547.55,194.47 548.55,192.96 549.55,191.44 550.54,189.92 551.54,188.38 552.54,186.79 553.54,185.16 554.53,183.5 555.53,181.82 556.53,180.12 557.52,178.37 558.52,176.58 559.52,174.73 560.51,172.79 561.51,170.79 562.51,168.77 563.51,166.76 564.5,164.81 565.5,162.95 566.5,161.14 567.49,159.34 568.49,157.5 569.49,155.58 570.48,153.53 571.48,151.07 572.48,148.46 573.48,146.49 574.47,145.14 575.47,144 576.47,143.02 577.46,142.17 578.46,141.4 579.46,140.65 580.45,139.87 581.45,139.15 582.45,138.55 583.45,138.14 584.44,138 585.44,138 586.44,138 587.43,138 588.43,138 589.43,138.03 590.42,138.78 591.42,140.15 592.42,141.61 593.42,142.71 594.41,143.68 595.41,144.6 596.41,145.47 597.4,146.29 598.4,147.05" fill="none" stroke="#1e1eb8" stroke-width="1.2"/>
<rect x="399.2" y="238.8" width="5.2" height="5.2" fill="#000"/>
<rect x="402.01" y="238.79" width="5.2" height="5.2" fill="#000"/>
<rect x="404.82" y="238.79" width="5.2" height="5.2" fill="#000"/>
<rect x="407.63" y="238.78" width="5.2" height="5.2" fill="#000"/>
<rect x="410.44" y="238.78" width="5.2" height="5.2" fill="#000"/>
<rect x="413.25" y="238.77" width="5.2" height="5.2" fill="#000"/>
<rect x="416.06" y="238.76" width="5.2" height="5.2" fill="#000"/>
<rect x="418.87" y="238.74" width="5.2" height="5.2" fill="#000"/>
<rect x="421.68" y="238.73" width="5.2" height="5.2" fill="#000"/>
<rect x="424.49" y="238.72" width="5.2" height="5.2" fill="#000"/>
<rect x="427.3" y="238.7" width="5.2" height="5.2" fill="#000"/>
<rect x="430.11" y="238.68" width="5.2" height="5.2" fill="#000"/>
<rect x="432.92" y="238.64" width="5.2" height="5.2" fill="#000"/>
<rect x="435.73" y="238.6" width="5.2" height="5.2" fill="#000"/>
<rect x="438.54" y="238.54" width="5.2" height="5.2" fill="#000"/>
<rect x="441.35" y="238.47" width="5.2" height="5.2" fill="#000"/>
<rect x="444.16" y="238.39" width="5.2" height="5.2" fill="#000"/>
<rect x="446.97" y="238.3" width="5.2" height="5.2" fill="#000"/>
<rect x="449.78" y="238.2" width="5.2" height="5.2" fill="#000"/>
<rect x="452.59" y="238.1" width="5.2" height="5.2" fill="#000"/>
<rect x="455.4" y="237.99" width="5.2" height="5.2" fill="#000"/>
<rect x="458.21" y="237.88" width="5.2" height="5.2" fill="#000"/>
<rect x="461.02" y="237.76" width="5.2" height="5.2" fill="#000"/>
<rect x="463.83" y="237.63" width="5.2" height="5.2" fill="#000"/>
<rect x="466.64" y="237.49" width="5.2" height="5.2" fill="#000"/>
<rect x="469.45" y="237.33" width="5.2" height="5.2" fill="#000"/>
<rect x="472.26" y="237.14" width="5.2" height="5.2" fill="#000"/>
<rect x="475.07" y="236.93" width="5.2" height="5.2" fill="#000"/>
<rect x="477.88" y="236.69" width="5.2" height="5.2" fill="#000"/>
<rect x="480.69" y="236.43" width="5.2" height="5.2" fill="#000"/>
<rect x="483.5" y="236.15" width="5.2" height="5.2" fill="#000"/>
<rect x="486.31" y="235.85" width="5.2" height="5.2" fill="#000"/>
<rect x="489.12" y="235.52" width="5.2" height="5.2" fill="#000"/>
<rect x="491.93" y="235.16" width="5.2" height="5.2" fill="#000"/>
<rect x="494.74" y="234.75" width="5.2" height="5.2" fill="#000"/>
<rect x="497.55" y="234.21" width="5.2" height="5.2" fill="#000"/>
<rect x="500.36" y="233.57" width="5.2" height="5.2" fill="#000"/>
<rect x="503.17" y="232.84" width="5.2" height="5.2" fill="#000"/>
<rect x="505.98" y="232.02" width="5.2" height="5.2" fill="#000"/>
<rect x="508.79" y="231.03" width="5.2" height="5.2" fill="#000"/>
<rect x="511.6" y="229.83" width="5.2" height="5.2" fill="#000"/>
<rect x="514.41" y="228.49" width="5.2" height="5.2" fill="#000"/>
<rect x="517.22" y="227" width="5.2" height="5.2" fill="#000"/>
<rect x="520.03" y="225.29" width="5.2" height="5.2" fill="#000"/>
<rect x="522.84" y="223.36" width="5.2" height="5.2" fill="#000"/>
<rect x="525.65" y="221.17" width="5.2" height="5.2" fill="#000"/>
<rect x="528.46" y="218.63" width="5.2" height="5.2" fill="#000"/>
<rect x="531.27" y="215.86" width="5.2" height="5.2" fill="#000"/>
<rect x="534.08" y="212.94" width="5.2" height="5.2" fill="#000"/>
<rect x="536.89" y="209.77" width="5.2" height="5.2" fill="#000"/>
<rect x="539.7" y="206.12" width="5.2" height="5.2" fill="#000"/>
<rect x="542.51" y="201.41" width="5.2" height="5.2" fill="#000"/>
<rect x="545.32" y="196.36" width="5.2" height="5.2" fill="#000"/>
<rect x="548.13" y="191.97" width="5.2" height="5.2" fill="#000"/>
<rect x="550.94" y="187.76" width="5.2" height="5.2" fill="#000"/>
<rect x="553.75" y="183.16" width="5.2" height="5.2" fill="#000"/>
<rect x="556.56" y="178.09" width="5.2" height="5.2" fill="#000"/>
<rect x="559.37" y="171.96" width="5.2" height="5.2" fill="#000"/>
<rect x="562.18" y="162.05" width="5.2" height="5.2" fill="#000"/>
<rect x="564.99" y="151.85" width="5.2" height="5.2" fill="#000"/>
<rect x="567.8" y="146.14" width="5.2" height="5.2" fill="#000"/>
<rect x="570.61" y="139.37" width="5.2" height="5.2" fill="#000"/>
<rect x="573.42" y="127.17" width="5.2" height="5.2" fill="#000"/>
<rect x="576.23" y="115.17" width="5.2" height="5.2" fill="#000"/>
<rect x="579.04" y="101.71" width="5.2" height="5.2" fill="#000"/>
<rect x="581.85" y="89.05" width="5.2" height="5.2" fill="#000"/>
<rect x="584.66" y="76.57" width="5.2" height="5.2" fill="#000"/>
<rect x="587.47" y="63.08" width="5.2" height="5.2" fill="#000"/>
<rect x="590.28" y="49.66" width="5.2" height="5.2" fill="#000"/>
<rect x="593.09" y="37.05" width="5.2" height="5.2" fill="#000"/>
<rect x="595.9" y="25.3" width="5.2" height="5.2" fill="#000"/>
<path d="M401.8 237.68L405.6 243.88L398 243.88Z" fill="#f00000"/>
<path d="M404.61 237.67L408.41 243.87L400.81 243.87Z" fill="#f00000"/>
<path d="M407.42 237.67L411.22 243.87L403.62 243.87Z" fill="#f00000"/>
<path d="M410.23 237.66L414.03 243.86L406.43 243.86Z" fill="#f00000"/>
<path d="M413.04 237.66L416.84 243.86L409.24 243.86Z" fill="#f00000"/>
<path d="M415.85 237.65L419.65 243.85L412.05 243.85Z" fill="#f00000"/>
<path d="M418.66 237.64L422.46 243.84L414.86 243.84Z" fill="#f00000"/>
<path d="M421.47 237.62L425.27 243.82L417.67 243.82Z" fill="#f00000"/>
<path d="M424.28 237.61L428.08 243.81L420.48 243.81Z" fill="#f00000"/>
<path d="M427.09 237.6L430.89 243.8L423.29 243.8Z" fill="#f00000"/>
<path d="M429.9 237.58L433.7 243.78L426.1 243.78Z" fill="#f00000"/>
<path d="M432.71 237.56L436.51 243.76L428.91 243.76Z" fill="#f00000"/>
<path d="M435.52 237.52L439.32 243.72L431.72 243.72Z" fill="#f00000"/>
<path d="M438.33 237.48L442.13 243.68L434.53 243.68Z" fill="#f00000"/>
<path d="M441.14 237.42L444.94 243.62L437.34 243.62Z" fill="#f00000"/>
<path d="M443.95 237.35L447.75 243.55L440.15 243.55Z" fill="#f00000"/>
<path d="M446.76 237.27L450.56 243.47L442.96 243.47Z" fill="#f00000"/>
<path d="M449.57 237.18L453.37 243.38L445.77 243.38Z" fill="#f00000"/>
<path d="M452.38 237.08L456.18 243.28L448.58 243.28Z" fill="#f00000"/>
<path d="M455.19 236.98L458.99 243.18L451.39 243.18Z" fill="#f00000"/>
<path d="M458 236.87L461.8 243.07L454.2 243.07Z" fill="#f00000"/>
<path d="M460.81 236.76L464.61 242.96L457.01 242.96Z" fill="#f00000"/>
<path d="M463.62 236.64L467.42 242.84L459.82 242.84Z" fill="#f00000"/>
<path d="M466.43 236.52L470.23 242.72L462.63 242.72Z" fill="#f00000"/>
<path d="M469.24 236.38L473.04 242.58L465.44 242.58Z" fill="#f00000"/>
<path d="M472.05 236.22L475.85 242.42L468.25 242.42Z" fill="#f00000"/>
<path d="M474.86 236.04L478.66 242.24L471.06 242.24Z" fill="#f00000"/>
<path d="M477.67 235.84L481.47 242.04L473.87 242.04Z" fill="#f00000"/>
<path d="M480.48 235.61L484.28 241.81L476.68 241.81Z" fill="#f00000"/>
<path d="M483.29 235.36L487.09 241.56L479.49 241.56Z" fill="#f00000"/>
<path d="M486.1 235.08L489.9 241.28L482.3 241.28Z" fill="#f00000"/>
<path d="M488.91 234.77L492.71 240.97L485.11 240.97Z" fill="#f00000"/>
<path d="M491.72 234.43L495.52 240.63L487.92 240.63Z" fill="#f00000"/>
<path d="M494.53 234.05L498.33 240.25L490.73 240.25Z" fill="#f00000"/>
<path d="M497.34 233.55L501.14 239.75L493.54 239.75Z" fill="#f00000"/>
<path d="M500.15 232.83L503.95 239.03L496.35 239.03Z" fill="#f00000"/>
<path d="M502.96 231.96L506.76 238.16L499.16 238.16Z" fill="#f00000"/>
<path d="M505.77 231.02L509.57 237.22L501.97 237.22Z" fill="#f00000"/>
<path d="M508.58 229.99L512.38 236.19L504.78 236.19Z" fill="#f00000"/>
<path d="M511.39 228.81L515.19 235.01L507.59 235.01Z" fill="#f00000"/>
<path d="M514.2 227.48L518 233.68L510.4 233.68Z" fill="#f00000"/>
<path d="M517.01 226L520.81 232.2L513.21 232.2Z" fill="#f00000"/>
<path d="M519.82 224.3L523.62 230.5L516.02 230.5Z" fill="#f00000"/>
<path d="M522.63 222.39L526.43 228.59L518.83 228.59Z" fill="#f00000"/>
<path d="M525.44 220.22L529.24 226.42L521.64 226.42Z" fill="#f00000"/>
<path d="M528.25 217.71L532.05 223.91L524.45 223.91Z" fill="#f00000"/>
<path d="M531.06 214.95L534.86 221.15L527.26 221.15Z" fill="#f00000"/>
<path d="M533.87 212.04L537.67 218.24L530.07 218.24Z" fill="#f00000"/>
<path d="M536.68 208.9L540.48 215.1L532.88 215.1Z" fill="#f00000"/>
<path d="M539.49 205.29L543.29 211.49L535.69 211.49Z" fill="#f00000"/>
<path d="M542.3 200.67L546.1 206.87L538.5 206.87Z" fill="#f00000"/>
<path d="M545.11 195.6L548.91 201.8L541.31 201.8Z" fill="#f00000"/>
<path d="M547.92 191.17L551.72 197.37L544.12 197.37Z" fill="#f00000"/>
<path d="M550.73 186.96L554.53 193.16L546.93 193.16Z" fill="#f00000"/>
<path d="M553.54 182.41L557.34 188.61L549.74 188.61Z" fill="#f00000"/>
<path d="M556.35 177.33L560.15 183.53L552.55 183.53Z" fill="#f00000"/>
<path d="M559.16 171.37L562.96 177.57L555.36 177.57Z" fill="#f00000"/>
<path d="M561.97 163.39L565.77 169.59L558.17 169.59Z" fill="#f00000"/>
<path d="M564.78 151.44L568.58 157.64L560.98 157.64Z" fill="#f00000"/>
<path d="M567.59 144.29L571.39 150.49L563.79 150.49Z" fill="#f00000"/>
<path d="M570.4 137.31L574.2 143.51L566.6 143.51Z" fill="#f00000"/>
<path d="M573.21 129.27L577.01 135.47L569.41 135.47Z" fill="#f00000"/>
<path d="M576.02 123.26L579.82 129.46L572.22 129.46Z" fill="#f00000"/>
<path d="M578.83 113.82L582.63 120.02L575.03 120.02Z" fill="#f00000"/>
<path d="M581.64 101.67L585.44 107.87L577.84 107.87Z" fill="#f00000"/>
<path d="M584.45 88.74L588.25 94.94L580.65 94.94Z" fill="#f00000"/>
<path d="M587.26 79.8L591.06 86L583.46 86Z" fill="#f00000"/>
<path d="M590.07 67.23L593.87 73.43L586.27 73.43Z" fill="#f00000"/>
<path d="M592.88 58.82L596.68 65.02L589.08 65.02Z" fill="#f00000"/>
<path d="M595.69 51.07L599.49 57.27L591.89 57.27Z" fill="#f00000"/>
<path d="M598.5 43.78L602.3 49.98L594.7 49.98Z" fill="#f00000"/>
<path d="M401.8 245.12L405.6 238.92L398 238.92Z" fill="#00e000"/>
<path d="M404.61 245.11L408.41 238.91L400.81 238.91Z" fill="#00e000"/>
<path d="M407.42 245.11L411.22 238.91L403.62 238.91Z" fill="#00e000"/>
<path d="M410.23 245.1L414.03 238.9L406.43 238.9Z" fill="#00e000"/>
<path d="M413.04 245.1L416.84 238.9L409.24 238.9Z" fill="#00e000"/>
<path d="M415.85 245.09L419.65 238.89L412.05 238.89Z" fill="#00e000"/>
<path d="M418.66 245.08L422.46 238.88L414.86 238.88Z" fill="#00e000"/>
<path d="M421.47 245.06L425.27 238.86L417.67 238.86Z" fill="#00e000"/>
<path d="M424.28 245.05L428.08 238.85L420.48 238.85Z" fill="#00e000"/>
<path d="M427.09 245.04L430.89 238.84L423.29 238.84Z" fill="#00e000"/>
<path d="M429.9 245.02L433.7 238.82L426.1 238.82Z" fill="#00e000"/>
<path d="M432.71 245L436.51 238.8L428.91 238.8Z" fill="#00e000"/>
<path d="M435.52 244.96L439.32 238.76L431.72 238.76Z" fill="#00e000"/>
<path d="M438.33 244.92L442.13 238.72L434.53 238.72Z" fill="#00e000"/>
<path d="M441.14 244.86L444.94 238.66L437.34 238.66Z" fill="#00e000"/>
<path d="M443.95 244.79L447.75 238.59L440.15 238.59Z" fill="#00e000"/>
<path d="M446.76 244.71L450.56 238.51L442.96 238.51Z" fill="#00e000"/>
<path d="M449.57 244.62L453.37 238.42L445.77 238.42Z" fill="#00e000"/>
<path d="M452.38 244.52L456.18 238.32L448.58 238.32Z" fill="#00e000"/>
<path d="M455.19 244.42L458.99 238.22L451.39 238.22Z" fill="#00e000"/>
<path d="M458 244.31L461.8 238.11L454.2 238.11Z" fill="#00e000"/>
<path d="M460.81 244.2L464.61 238L457.01 238Z" fill="#00e000"/>
<path d="M463.62 244.08L467.42 237.88L459.82 237.88Z" fill="#00e000"/>
<path d="M466.43 243.96L470.23 237.76L462.63 237.76Z" fill="#00e000"/>
<path d="M469.24 243.82L473.04 237.62L465.44 237.62Z" fill="#00e000"/>
<path d="M472.05 243.67L475.85 237.47L468.25 237.47Z" fill="#00e000"/>
<path d="M474.86 243.5L478.66 237.3L471.06 237.3Z" fill="#00e000"/>
<path d="M477.67 243.3L481.47 237.1L473.87 237.1Z" fill="#00e000"/>
<path d="M480.48 243.08L484.28 236.88L476.68 236.88Z" fill="#00e000"/>
<path d="M483.29 242.83L487.09 236.63L479.49 236.63Z" fill="#00e000"/>
<path d="M486.1 242.55L489.9 236.35L482.3 236.35Z" fill="#00e000"/>
<path d="M488.91 242.24L492.71 236.04L485.11 236.04Z" fill="#00e000"/>
<path d="M491.72 241.88L495.52 235.68L487.92 235.68Z" fill="#00e000"/>
<path d="M494.53 241.49L498.33 235.29L490.73 235.29Z" fill="#00e000"/>
<path d="M497.34 240.93L501.14 234.73L493.54 234.73Z" fill="#00e000"/>
<path d="M500.15 240.06L503.95 233.86L496.35 233.86Z" fill="#00e000"/>
<path d="M502.96 239.01L506.76 232.81L499.16 232.81Z" fill="#00e000"/>
<path d="M505.77 237.92L509.57 231.72L501.97 231.72Z" fill="#00e000"/>
<path d="M508.58 236.69L512.38 230.49L504.78 230.49Z" fill="#00e000"/>
<path d="M511.39 235.31L515.19 229.11L507.59 229.11Z" fill="#00e000"/>
<path d="M514.2 233.81L518 227.61L510.4 227.61Z" fill="#00e000"/>
<path d="M517.01 232.21L520.81 226.01L513.21 226.01Z" fill="#00e000"/>
<path d="M519.82 230.45L523.62 224.25L516.02 224.25Z" fill="#00e000"/>
<path d="M522.63 228.5L526.43 222.3L518.83 222.3Z" fill="#00e000"/>
<path d="M525.44 226.24L529.24 220.04L521.64 220.04Z" fill="#00e000"/>
<path d="M528.25 223.67L532.05 217.47L524.45 217.47Z" fill="#00e000"/>
<path d="M531.06 220.87L534.86 214.67L527.26 214.67Z" fill="#00e000"/>
<path d="M533.87 217.96L537.67 211.76L530.07 211.76Z" fill="#00e000"/>
<path d="M536.68 214.78L540.48 208.58L532.88 208.58Z" fill="#00e000"/>
<path d="M539.49 211.07L543.29 204.87L535.69 204.87Z" fill="#00e000"/>
<path d="M542.3 206.41L546.1 200.21L538.5 200.21Z" fill="#00e000"/>
<path d="M545.11 201.32L548.91 195.12L541.31 195.12Z" fill="#00e000"/>
<path d="M547.92 196.32L551.72 190.12L544.12 190.12Z" fill="#00e000"/>
<path d="M550.73 190.81L554.53 184.61L546.93 184.61Z" fill="#00e000"/>
<path d="M553.54 183.65L557.34 177.45L549.74 177.45Z" fill="#00e000"/>
<path d="M556.35 175.89L560.15 169.69L552.55 169.69Z" fill="#00e000"/>
<path d="M559.16 169.86L562.96 163.66L555.36 163.66Z" fill="#00e000"/>
<path d="M561.97 163.91L565.77 157.71L558.17 157.71Z" fill="#00e000"/>
<path d="M564.78 157.28L568.58 151.08L560.98 151.08Z" fill="#00e000"/>
<path d="M567.59 150.89L571.39 144.69L563.79 144.69Z" fill="#00e000"/>
<path d="M570.4 144.61L574.2 138.41L566.6 138.41Z" fill="#00e000"/>
<path d="M573.21 137.03L577.01 130.83L569.41 130.83Z" fill="#00e000"/>
<path d="M576.02 131.35L579.82 125.15L572.22 125.15Z" fill="#00e000"/>
<path d="M578.83 123.34L582.63 117.14L575.03 117.14Z" fill="#00e000"/>
<path d="M581.64 114.7L585.44 108.5L577.84 108.5Z" fill="#00e000"/>
<path d="M584.45 107.96L588.25 101.76L580.65 101.76Z" fill="#00e000"/>
<path d="M587.7 103.46L591.5 97.26L583.9 97.26Z" fill="#00e000"/>
<path d="M591.5 102.34L595.3 96.14L587.7 96.14Z" fill="#00e000"/>
<path d="M595.2 103.42L599 97.22L591.4 97.22Z" fill="#00e000"/>
<path d="M598.8 104.06L602.6 97.86L595 97.86Z" fill="#00e000"/>
<circle cx="401.8" cy="241.4" r="2.95" fill="#0000f0"/>
<circle cx="404.61" cy="241.39" r="2.95" fill="#0000f0"/>
<circle cx="407.42" cy="241.39" r="2.95" fill="#0000f0"/>
<circle cx="410.23" cy="241.38" r="2.95" fill="#0000f0"/>
<circle cx="413.04" cy="241.38" r="2.95" fill="#0000f0"/>
<circle cx="415.85" cy="241.37" r="2.95" fill="#0000f0"/>
<circle cx="418.66" cy="241.36" r="2.95" fill="#0000f0"/>
<circle cx="421.47" cy="241.34" r="2.95" fill="#0000f0"/>
<circle cx="424.28" cy="241.33" r="2.95" fill="#0000f0"/>
<circle cx="427.09" cy="241.32" r="2.95" fill="#0000f0"/>
<circle cx="429.9" cy="241.3" r="2.95" fill="#0000f0"/>
<circle cx="432.71" cy="241.28" r="2.95" fill="#0000f0"/>
<circle cx="435.52" cy="241.24" r="2.95" fill="#0000f0"/>
<circle cx="438.33" cy="241.2" r="2.95" fill="#0000f0"/>
<circle cx="441.14" cy="241.14" r="2.95" fill="#0000f0"/>
<circle cx="443.95" cy="241.07" r="2.95" fill="#0000f0"/>
<circle cx="446.76" cy="240.99" r="2.95" fill="#0000f0"/>
<circle cx="449.57" cy="240.9" r="2.95" fill="#0000f0"/>
<circle cx="452.38" cy="240.8" r="2.95" fill="#0000f0"/>
<circle cx="455.19" cy="240.7" r="2.95" fill="#0000f0"/>
<circle cx="458" cy="240.59" r="2.95" fill="#0000f0"/>
<circle cx="460.81" cy="240.48" r="2.95" fill="#0000f0"/>
<circle cx="463.62" cy="240.36" r="2.95" fill="#0000f0"/>
<circle cx="466.43" cy="240.24" r="2.95" fill="#0000f0"/>
<circle cx="469.24" cy="240.1" r="2.95" fill="#0000f0"/>
<circle cx="472.05" cy="239.94" r="2.95" fill="#0000f0"/>
<circle cx="474.86" cy="239.77" r="2.95" fill="#0000f0"/>
<circle cx="477.67" cy="239.57" r="2.95" fill="#0000f0"/>
<circle cx="480.48" cy="239.35" r="2.95" fill="#0000f0"/>
<circle cx="483.29" cy="239.1" r="2.95" fill="#0000f0"/>
<circle cx="486.1" cy="238.82" r="2.95" fill="#0000f0"/>
<circle cx="488.91" cy="238.5" r="2.95" fill="#0000f0"/>
<circle cx="491.72" cy="238.15" r="2.95" fill="#0000f0"/>
<circle cx="494.53" cy="237.77" r="2.95" fill="#0000f0"/>
<circle cx="497.34" cy="237.24" r="2.95" fill="#0000f0"/>
<circle cx="500.15" cy="236.45" r="2.95" fill="#0000f0"/>
<circle cx="502.96" cy="235.51" r="2.95" fill="#0000f0"/>
<circle cx="505.77" cy="234.53" r="2.95" fill="#0000f0"/>
<circle cx="508.58" cy="233.46" r="2.95" fill="#0000f0"/>
<circle cx="511.39" cy="232.25" r="2.95" fill="#0000f0"/>
<circle cx="514.2" cy="230.9" r="2.95" fill="#0000f0"/>
<circle cx="517.01" cy="229.37" r="2.95" fill="#0000f0"/>
<circle cx="519.82" cy="227.63" r="2.95" fill="#0000f0"/>
<circle cx="522.63" cy="225.67" r="2.95" fill="#0000f0"/>
<circle cx="525.44" cy="223.43" r="2.95" fill="#0000f0"/>
<circle cx="528.25" cy="220.86" r="2.95" fill="#0000f0"/>
<circle cx="531.06" cy="218.06" r="2.95" fill="#0000f0"/>
<circle cx="533.87" cy="215.12" r="2.95" fill="#0000f0"/>
<circle cx="536.68" cy="211.9" r="2.95" fill="#0000f0"/>
<circle cx="539.49" cy="208.14" r="2.95" fill="#0000f0"/>
<circle cx="542.3" cy="203.29" r="2.95" fill="#0000f0"/>
<circle cx="545.11" cy="198.32" r="2.95" fill="#0000f0"/>
<circle cx="547.92" cy="193.91" r="2.95" fill="#0000f0"/>
<circle cx="550.73" cy="189.64" r="2.95" fill="#0000f0"/>
<circle cx="553.54" cy="185.15" r="2.95" fill="#0000f0"/>
<circle cx="556.35" cy="180.42" r="2.95" fill="#0000f0"/>
<circle cx="559.16" cy="175.4" r="2.95" fill="#0000f0"/>
<circle cx="561.97" cy="169.86" r="2.95" fill="#0000f0"/>
<circle cx="564.78" cy="164.28" r="2.95" fill="#0000f0"/>
<circle cx="567.59" cy="159.16" r="2.95" fill="#0000f0"/>
<circle cx="570.4" cy="153.71" r="2.95" fill="#0000f0"/>
<circle cx="573.21" cy="146.91" r="2.95" fill="#0000f0"/>
<circle cx="576.02" cy="143.44" r="2.95" fill="#0000f0"/>
<circle cx="578.83" cy="141.13" r="2.95" fill="#0000f0"/>
<circle cx="583.8" cy="138.06" r="2.95" fill="#0000f0"/>
<circle cx="589.2" cy="138" r="2.95" fill="#0000f0"/>
<circle cx="593.4" cy="142.7" r="2.95" fill="#0000f0"/>
<circle cx="597.8" cy="146.6" r="2.95" fill="#0000f0"/>
<rect x="208.2" y="155.7" width="90.8" height="89.3" fill="#fff" stroke="#7a7a7a" stroke-width="1.4"/>
<path d="M208.2 245h2.2 M208.2 236.07h1.3 M208.2 227.14h2.2 M208.2 218.21h1.3 M208.2 209.28h2.2 M208.2 200.35h1.3 M208.2 191.42h2.2 M208.2 182.49h1.3 M208.2 173.56h2.2 M208.2 164.63h1.3 M208.2 155.7h2.2 M208.2 245v-1.3 M214.25 245v-2.2 M220.31 245v-1.3 M226.36 245v-2.2 M232.41 245v-1.3 M238.47 245v-2.2 M244.52 245v-1.3 M250.57 245v-2.2 M256.63 245v-1.3 M262.68 245v-2.2 M268.73 245v-1.3 M274.79 245v-2.2 M280.84 245v-1.3 M286.89 245v-2.2 M292.95 245v-1.3 M299 245v-2.2" stroke="#444" stroke-width="0.8" fill="none"/>
<text x="205.4" y="247.2" font-size="4.9" text-anchor="end" fill="#222">0.0</text>
<text x="205.4" y="229.34" font-size="4.9" text-anchor="end" fill="#222">0.2</text>
<text x="205.4" y="211.48" font-size="4.9" text-anchor="end" fill="#222">0.4</text>
<text x="205.4" y="193.62" font-size="4.9" text-anchor="end" fill="#222">0.6</text>
<text x="205.4" y="175.76" font-size="4.9" text-anchor="end" fill="#222">0.8</text>
<text x="205.4" y="157.9" font-size="4.9" text-anchor="end" fill="#222">1.0</text>
<text x="214.25" y="251.2" font-size="4.9" text-anchor="middle" fill="#222">1.6</text>
<text x="226.36" y="251.2" font-size="4.9" text-anchor="middle" fill="#222">1.8</text>
<text x="238.47" y="251.2" font-size="4.9" text-anchor="middle" fill="#222">2.0</text>
<text x="250.57" y="251.2" font-size="4.9" text-anchor="middle" fill="#222">2.2</text>
<text x="262.68" y="251.2" font-size="4.9" text-anchor="middle" fill="#222">2.4</text>
<text x="274.79" y="251.2" font-size="4.9" text-anchor="middle" fill="#222">2.6</text>
<text x="286.89" y="251.2" font-size="4.9" text-anchor="middle" fill="#222">2.8</text>
<text x="299" y="251.2" font-size="4.9" text-anchor="middle" fill="#222">3.0</text>
<text x="254.1" y="259.2" font-size="6.2" text-anchor="middle" fill="#222">Z' / kΩ</text>
<text transform="translate(195.3 201.0) rotate(-90)" font-size="7.6" text-anchor="middle" fill="#222">-Z" / kΩ</text>
<polyline points="230.2,215.1 234.5,221.1 239.7,224.7 244.8,226.9 248.6,222.5 253.7,216.8 258.8,207.9 267.8,192.5 278,178.5 287,167 296.3,156.5" fill="none" stroke="#101010" stroke-width="1.0"/>
<polyline points="229.7,214.6 234,220.6 239.2,224.2 244.3,226.4 248.1,222 253.2,216.3 258.3,207.4 267.3,192 277.5,178 286.5,166.5 295.8,156" fill="none" stroke="#2a2ad8" stroke-width="1.2"/>
<circle cx="232.8" cy="219.6" r="1.35" fill="#1a1af0"/>
<circle cx="236" cy="222.4" r="1.35" fill="#1a1af0"/>
<circle cx="239.2" cy="224" r="1.35" fill="#1a1af0"/>
<circle cx="242" cy="225.6" r="1.35" fill="#1a1af0"/>
<circle cx="244.3" cy="226.4" r="1.35" fill="#1a1af0"/>
<circle cx="246" cy="225" r="1.35" fill="#1a1af0"/>
<circle cx="248.1" cy="222" r="1.35" fill="#1a1af0"/>
<circle cx="252" cy="217.4" r="1.35" fill="#1a1af0"/>
<circle cx="257.1" cy="208.6" r="1.35" fill="#1a1af0"/>
<circle cx="262.2" cy="199.8" r="1.35" fill="#1a1af0"/>
<circle cx="267.3" cy="192.1" r="1.35" fill="#1a1af0"/>
<circle cx="272.4" cy="185.2" r="1.35" fill="#1a1af0"/>
<circle cx="278.3" cy="177.5" r="1.35" fill="#1a1af0"/>
<circle cx="285.2" cy="168.8" r="1.35" fill="#1a1af0"/>
<circle cx="291.6" cy="161" r="1.35" fill="#1a1af0"/>
<circle cx="244" cy="226.4" r="2.1" fill="#1a1af0"/>
<rect x="227.8" y="215" width="2.3" height="2.3" fill="#000"/><rect x="257.8" y="201.8" width="2.2" height="2.2" fill="#000"/>
<polyline points="229.7,214.2 234,220.4 239.2,224" fill="none" stroke="#e040d8" stroke-width="1.2"/>
<polyline points="244.3,226.4 248.1,222 253.2,216.3 258.3,207.4 267.3,192 277.5,178 286.5,166.5 295.8,156" fill="none" stroke="#d838d0" stroke-width="0.8" stroke-opacity="0.55"/>
<path d="M379.8 80.8H572" stroke="#262626" stroke-width="1.25" fill="none"/>
<rect x="393.8" y="77" width="24" height="7.6" fill="#fff"/>
<path d="M393.9 80.8L397.7 83.4L402.8 78.1L408.2 83.4L413.6 78.1L416.9 80.8" stroke="#262626" stroke-width="1.2" fill="none" stroke-linejoin="miter"/>
<path d="M386.3 80.8V98.3H424.3V80.8" stroke="#262626" stroke-width="1.3" fill="none"/>
<path d="M398.8 95L402.9 98.3L398.8 101.5M404.9 95L408.7 98.3L404.9 101.5" stroke="#262626" stroke-width="1.3" fill="none"/>
<circle cx="386.3" cy="80.8" r="2.9" fill="#000"/>
<text x="402.2" y="75.3" font-size="6" textLength="6.3" lengthAdjust="spacingAndGlyphs" fill="#222" stroke="#222" stroke-width="0.2">R1</text>
<text x="398.8" y="92.4" font-size="5.9" textLength="13.7" lengthAdjust="spacingAndGlyphs" fill="#222" stroke="#222" stroke-width="0.2">CPE1</text>
<text x="391.1" y="113.8" font-size="7.2" textLength="29.2" lengthAdjust="spacingAndGlyphs" font-weight="bold" fill="#2a2a2a">YSZ bulk</text>
<rect x="441.8" y="77" width="24" height="7.6" fill="#fff"/>
<path d="M441.9 80.8L445.7 83.4L450.8 78.1L456.2 83.4L461.6 78.1L464.9 80.8" stroke="#262626" stroke-width="1.2" fill="none" stroke-linejoin="miter"/>
<path d="M434.3 80.8V98.3H472.3V80.8" stroke="#262626" stroke-width="1.3" fill="none"/>
<path d="M446.8 95L450.9 98.3L446.8 101.5M452.9 95L456.7 98.3L452.9 101.5" stroke="#262626" stroke-width="1.3" fill="none"/>
<circle cx="434.3" cy="80.8" r="2.9" fill="#000"/>
<text x="450.2" y="75.3" font-size="6" textLength="6.3" lengthAdjust="spacingAndGlyphs" fill="#222" stroke="#222" stroke-width="0.2">R2</text>
<text x="446.8" y="92.4" font-size="5.9" textLength="13.7" lengthAdjust="spacingAndGlyphs" fill="#222" stroke="#222" stroke-width="0.2">CPE2</text>
<text x="438" y="113.8" font-size="7.2" textLength="31.4" lengthAdjust="spacingAndGlyphs" font-weight="bold" fill="#2a2a2a">RE ohmic</text>
<rect x="489.8" y="77" width="24" height="7.6" fill="#fff"/>
<path d="M489.9 80.8L493.7 83.4L498.8 78.1L504.2 83.4L509.6 78.1L512.9 80.8" stroke="#262626" stroke-width="1.2" fill="none" stroke-linejoin="miter"/>
<path d="M482.3 80.8V98.3H520.3V80.8" stroke="#262626" stroke-width="1.3" fill="none"/>
<path d="M494.8 95L498.9 98.3L494.8 101.5M500.9 95L504.7 98.3L500.9 101.5" stroke="#262626" stroke-width="1.3" fill="none"/>
<circle cx="482.3" cy="80.8" r="2.9" fill="#000"/>
<text x="498.2" y="75.3" font-size="6" textLength="6.3" lengthAdjust="spacingAndGlyphs" fill="#222" stroke="#222" stroke-width="0.2">R3</text>
<text x="494.8" y="92.4" font-size="5.9" textLength="13.7" lengthAdjust="spacingAndGlyphs" fill="#222" stroke="#222" stroke-width="0.2">CPE3</text>
<text x="486.4" y="113.8" font-size="7.2" textLength="30.6" lengthAdjust="spacingAndGlyphs" font-weight="bold" fill="#2a2a2a">SE ohmic</text>
<rect x="537.9" y="77" width="24" height="7.6" fill="#fff"/>
<path d="M538 80.8L541.8 83.4L546.9 78.1L552.3 83.4L557.7 78.1L561 80.8" stroke="#262626" stroke-width="1.2" fill="none" stroke-linejoin="miter"/>
<path d="M530.4 80.8V98.3H568.4V80.8" stroke="#262626" stroke-width="1.3" fill="none"/>
<path d="M542.9 95L547 98.3L542.9 101.5M549 95L552.8 98.3L549 101.5" stroke="#262626" stroke-width="1.3" fill="none"/>
<circle cx="530.4" cy="80.8" r="2.9" fill="#000"/>
<text x="546.3" y="75.3" font-size="6" textLength="6.3" lengthAdjust="spacingAndGlyphs" fill="#222" stroke="#222" stroke-width="0.2">R4</text>
<text x="542.9" y="92.4" font-size="5.9" textLength="13.7" lengthAdjust="spacingAndGlyphs" fill="#222" stroke="#222" stroke-width="0.2">CPE4</text>
<text x="537.85" y="113.8" font-size="7.2" textLength="23.9" lengthAdjust="spacingAndGlyphs" font-weight="bold" fill="#2a2a2a">SE/YSZ</text>
<text x="535.05" y="121.7" font-size="7.2" textLength="29.5" lengthAdjust="spacingAndGlyphs" font-weight="bold" fill="#2a2a2a">Interface</text>
</svg></body></html>
